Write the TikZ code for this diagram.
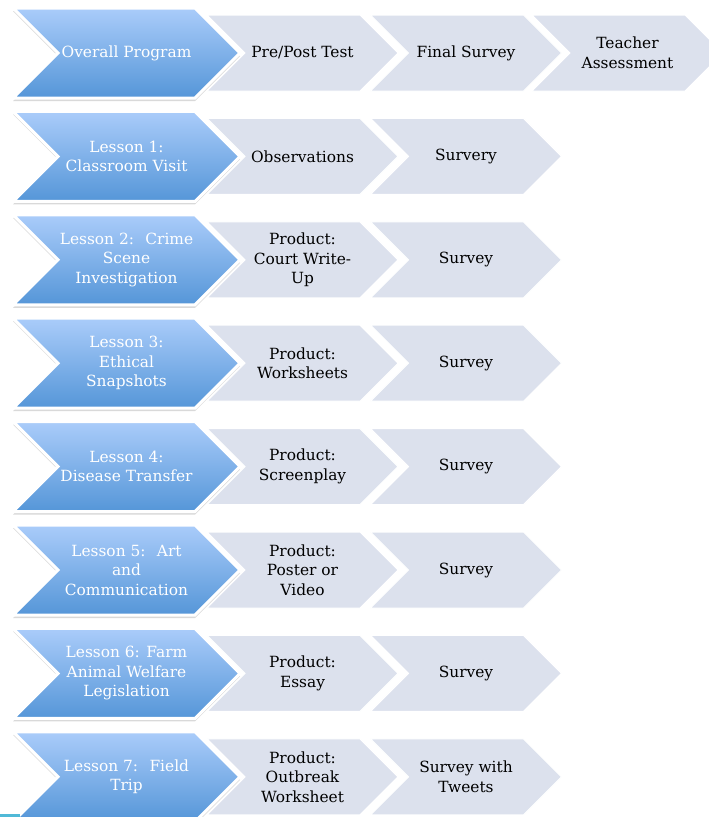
\documentclass[tikz,border=0pt]{standalone}
\usepackage{fontspec}
\setmainfont{DejaVu Serif}
\usetikzlibrary{shapes.symbols,shadows}
\definecolor{stepgray}{RGB}{220,225,237}
\definecolor{bluetop}{RGB}{170,204,250}
\definecolor{bluebot}{RGB}{85,150,216}
\definecolor{edgecyan}{RGB}{80,185,215}

\begin{document}
\begin{tikzpicture}[x=1pt, y=-1pt,
  font=\fontsize{15.4}{19.5}\selectfont,
  chev/.style={signal, signal to=east, signal from=west, signal pointer angle=90, draw=white, align=center, inner sep=1pt},
  lesson/.style={chev, line width=3pt, minimum width=227pt, minimum height=90pt, top color=bluetop, bottom color=bluebot, text=white,
    drop shadow={shadow xshift=0pt, shadow yshift=-3pt, opacity=.3}},
  task/.style={chev, line width=1pt, minimum width=191pt, minimum height=76pt, fill=stepgray, text=black}
]
  \useasboundingbox (0,0) rectangle (709,817);

  % row 1: whole program
  \node[task] (pre) at (302.5,53) {Pre/Post Test};
  \node[task] (final) at (466,53) {Final Survey};
  \node[task] (teach) at (627.5,53) {Teacher\\Assessment};
  \node[lesson] (prog) at (126.5,53) {Overall Program};

  % rows 2--8: lessons
  \node[task] (obs1) at (302.5,156.4) {Observations};
  \node[task] (sur1) at (466,156.4) {Survery};
  \node[lesson] (les1) at (126.5,156.4) {Lesson 1:\\Classroom Visit};

  \node[task] (prod2) at (302.5,259.8) {Product:\\Court Write-\\Up};
  \node[task] (sur2) at (466,259.8) {Survey};
  \node[lesson] (les2) at (126.5,259.8) {Lesson 2:~ Crime\\Scene\\Investigation};

  \node[task] (prod3) at (302.5,363.2) {Product:\\Worksheets};
  \node[task] (sur3) at (466,363.2) {Survey};
  \node[lesson] (les3) at (126.5,363.2) {Lesson 3:\\Ethical\\Snapshots};

  \node[task] (prod4) at (302.5,466.6) {Product:\\Screenplay};
  \node[task] (sur4) at (466,466.6) {Survey};
  \node[lesson] (les4) at (126.5,466.6) {Lesson 4:\\Disease Transfer};

  \node[task] (prod5) at (302.5,570) {Product:\\Poster or\\Video};
  \node[task] (sur5) at (466,570) {Survey};
  \node[lesson] (les5) at (126.5,570) {Lesson 5:~ Art\\and\\Communication};

  \node[task] (prod6) at (302.5,673.4) {Product:\\Essay};
  \node[task] (sur6) at (466,673.4) {Survey};
  \node[lesson] (les6) at (126.5,673.4) {Lesson 6: Farm\\Animal Welfare\\Legislation};

  \node[task] (prod7) at (302.5,776.8) {Product:\\Outbreak\\Worksheet};
  \node[task] (sur7) at (466,776.8) {Survey with\\Tweets};
  \node[lesson] (les7) at (126.5,776.8) {Lesson 7:~ Field\\Trip};

  \fill[edgecyan] (0,814) rectangle (20,817);
\end{tikzpicture}
\end{document}
